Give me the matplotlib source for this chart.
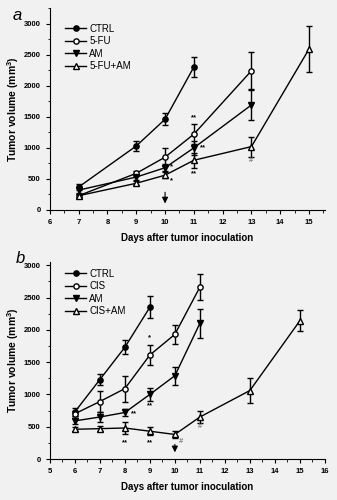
import numpy as np
import matplotlib.pyplot as plt
from matplotlib.ticker import MultipleLocator

plt.rcParams['font.family'] = ['Liberation Sans', 'DejaVu Sans']
plt.rcParams['mathtext.fontset'] = 'custom'
plt.rcParams['mathtext.bf'] = 'Liberation Sans:bold'

bg = '#f1f1f1'

# panel a: 5-FU series
days_a = {
    'CTRL': [7, 9, 10, 11],
    '5-FU': [7, 9, 10, 11, 13],
    'AM': [7, 9, 10, 11, 13],
    '5-FU+AM': [7, 9, 10, 11, 13, 15],
}
vol_a = {
    'CTRL': [370, 1030, 1460, 2300],
    '5-FU': [230, 590, 850, 1220, 2240],
    'AM': [320, 530, 680, 1000, 1690],
    '5-FU+AM': [230, 430, 560, 800, 1020, 2590],
}
err_a = {
    'CTRL': [50, 80, 100, 160],
    '5-FU': [30, 40, 150, 160, 300],
    'AM': [40, 40, 60, 110, 240],
    '5-FU+AM': [30, 30, 50, 120, 160, 370],
}

# panel b: CIS series
days_b = {
    'CTRL': [6, 7, 8, 9],
    'CIS': [6, 7, 8, 9, 10, 11],
    'AM': [6, 7, 8, 9, 10, 11],
    'CIS+AM': [6, 7, 8, 9, 10, 11, 13, 15],
}
vol_b = {
    'CTRL': [730, 1230, 1730, 2350],
    'CIS': [700, 890, 1090, 1610, 1930, 2660],
    'AM': [590, 650, 720, 1000, 1290, 2100],
    'CIS+AM': [460, 470, 480, 430, 380, 650, 1060, 2140],
}
err_b = {
    'CTRL': [60, 90, 110, 170],
    'CIS': [40, 160, 200, 160, 150, 200],
    'AM': [50, 70, 50, 100, 140, 230],
    'CIS+AM': [30, 40, 90, 60, 60, 90, 190, 160],
}

# marker style per series position
styles = [
    dict(marker='o', mfc='black'),
    dict(marker='o', mfc='white'),
    dict(marker='v', mfc='black'),
    dict(marker='^', mfc='white'),
]

# significance marks: (x, y, text, colour)
marks_a = [(11, 1480, '**', 'black'), (10.22, 700, '*', 'black'),
           (10.22, 470, '*', 'black'), (11.3, 1000, '**', 'black'),
           (11, 580, '**', 'black'), (13, 800, '#', 'gray')]
marks_b = [(9, 1880, '*', 'black'), (9, 820, '**', 'black'),
           (8.35, 700, '**', 'black'), (8, 250, '**', 'black'),
           (9, 250, '**', 'black'), (10.25, 270, '#', 'gray'),
           (11, 500, '#', 'gray')]


def draw(ax, days, vol, err, xlim, ylim, letter, marks, arrow_top,
         leg_y, letter_xy):
    ax.set_facecolor(bg)
    for st, name in zip(styles, days):
        ax.errorbar(days[name], vol[name], yerr=err[name], fmt='none',
                    ecolor='black', elinewidth=1, capsize=2.5, capthick=1)
        ax.plot(days[name], vol[name], color='black', mec='black', ms=3.8,
                lw=1, label=name, **st)
    for x, y, t, c in marks:
        ax.text(x, y, t, ha='center', va='center', fontsize=5.5,
                fontweight='bold', color=c)
    ax.annotate('', xy=(10, 60), xytext=(10, arrow_top),
                arrowprops=dict(arrowstyle='-|>', color='gray', lw=0.8,
                                mutation_scale=9, fc='black', ec='black'))
    ax.set_xlim(*xlim)
    ax.set_ylim(*ylim)
    ax.xaxis.set_major_locator(MultipleLocator(1))
    ax.xaxis.set_minor_locator(MultipleLocator(0.5))
    ax.yaxis.set_major_locator(MultipleLocator(500))
    ax.yaxis.set_minor_locator(MultipleLocator(250))
    ax.spines['top'].set_visible(False)
    ax.spines['right'].set_visible(False)
    ax.tick_params(which='major', length=3, width=0.8, labelsize=5.5)
    ax.tick_params(which='minor', length=1.8, width=0.6)
    for lb in ax.get_xticklabels() + ax.get_yticklabels():
        lb.set_fontweight('bold')
    ax.set_xlabel('Days after tumor inoculation', fontsize=7,
                  fontweight='bold', labelpad=5)
    ax.set_ylabel(r'Tumor volume (mm$^{\mathbf{3}}$)', fontsize=7.5,
                  fontweight='bold', labelpad=2)
    ax.legend(loc='upper left', frameon=False, fontsize=7,
              handlelength=2.2, handletextpad=0.3, labelspacing=0.25,
              borderaxespad=0.3, bbox_to_anchor=(0.03, leg_y))
    ax.text(letter_xy[0], letter_xy[1], letter, transform=ax.transAxes,
            fontsize=12, style='italic', va='top', ha='left')


fig = plt.figure(figsize=(3.37, 5.0), dpi=100, facecolor=bg)
ax1 = fig.add_axes([0.148, 0.58, 0.816, 0.404])
ax2 = fig.add_axes([0.148, 0.082, 0.816, 0.394])

draw(ax1, days_a, vol_a, err_a, (6, 15.55), (0, 3250), 'a', marks_a,
     330, 0.955, (-0.135, 1.0))
draw(ax2, days_b, vol_b, err_b, (5, 16), (0, 3050), 'b', marks_b,
     270, 1.0, (-0.125, 1.055))

fig.savefig('out.png', dpi=100, facecolor=bg)
